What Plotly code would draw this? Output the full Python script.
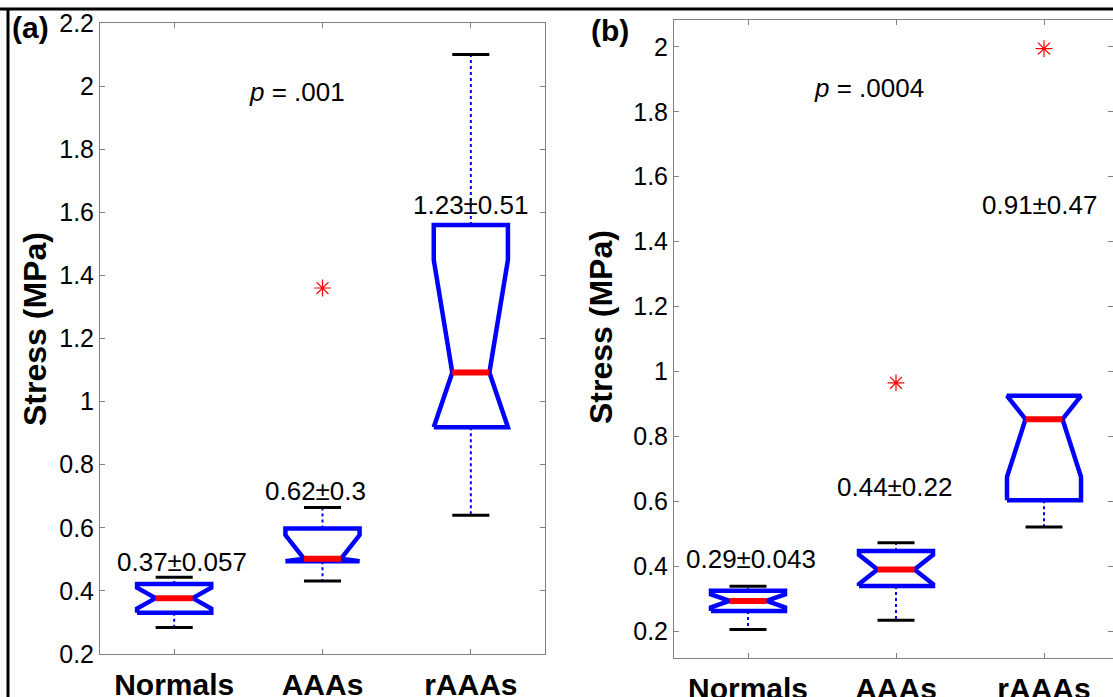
import plotly.graph_objects as go

W, H = 1113, 697

categories = ["Normals", "AAAs", "rAAAs"]
cat_pos = [1, 2, 3]

# ---- panel (a) ----
a_q1 = [0.331, 0.494, 0.919]
a_med = [0.377, 0.502, 1.092]
a_q3 = [0.422, 0.598, 1.560]
a_lo = [0.284, 0.431, 0.640]
a_hi = [0.443, 0.664, 2.100]
a_notch = [0.033, 0.075, 0.357]
a_out_x = [2]
a_out_y = [1.36]
a_labels = ["0.37±0.057", "0.62±0.3", "1.23±0.51"]
a_label_x = [1.05, 1.95, 3.0]
a_label_y = [0.492, 0.718, 1.623]
a_p_text = "<i>p</i> = .001"
a_p_pos = (1.83, 1.981)
a_yticks = [0.2, 0.4, 0.6, 0.8, 1.0, 1.2, 1.4, 1.6, 1.8, 2.0, 2.2]
a_yticktext = ["0.2", "0.4", "0.6", "0.8", "1", "1.2", "1.4", "1.6", "1.8", "2", "2.2"]

# ---- panel (b) ----
b_q1 = [0.262, 0.339, 0.603]
b_med = [0.293, 0.390, 0.853]
b_q3 = [0.324, 0.447, 0.925]
b_lo = [0.205, 0.233, 0.521]
b_hi = [0.338, 0.472, 0.925]
b_notch = [0.020, 0.045, 0.178]
b_out_x = [2, 3]
b_out_y = [0.965, 1.995]
b_labels = ["0.29±0.043", "0.44±0.22", "0.91±0.47"]
b_label_x = [1.02, 1.99, 2.97]
b_label_y = [0.423, 0.644, 1.513]
b_p_text = "<i>p</i> = .0004"
b_p_pos = (1.82, 1.874)
b_yticks = [0.2, 0.4, 0.6, 0.8, 1.0, 1.2, 1.4, 1.6, 1.8, 2.0]
b_yticktext = ["0.2", "0.4", "0.6", "0.8", "1", "1.2", "1.4", "1.6", "1.8", "2"]

FONT = "Arial, 'Liberation Sans', sans-serif"
BLUE = "rgb(0,0,255)"
RED = "rgb(255,0,0)"
AXC = "#808080"

fig = go.Figure()


def add_panel(xa, ya, q1, med, q3, lo, hi, notch, out_x, out_y):
    half, nd, cap = 0.25, 0.125, 0.125
    for i, x in enumerate(cat_pos):
        # whiskers (dotted blue)
        fig.add_trace(go.Scatter(x=[x, x], y=[q3[i], hi[i]], mode="lines",
                                 line=dict(color=BLUE, width=2, dash="dot"),
                                 xaxis=xa, yaxis=ya, hoverinfo="skip", showlegend=False))
        fig.add_trace(go.Scatter(x=[x, x], y=[q1[i], lo[i]], mode="lines",
                                 line=dict(color=BLUE, width=2, dash="dot"),
                                 xaxis=xa, yaxis=ya, hoverinfo="skip", showlegend=False))
        # caps
        for v in (lo[i], hi[i]):
            fig.add_trace(go.Scatter(x=[x - cap, x + cap], y=[v, v], mode="lines",
                                     line=dict(color="black", width=3),
                                     xaxis=xa, yaxis=ya, hoverinfo="skip", showlegend=False))
        # notched box
        L, R = x - half, x + half
        top_n = min(med[i] + notch[i], q3[i])
        bot_n = max(med[i] - notch[i], q1[i])
        px = [L, L, x - nd, L, L, R, R, x + nd, R, R, L]
        py = [q1[i], bot_n, med[i], top_n, q3[i], q3[i], top_n, med[i], bot_n, q1[i], q1[i]]
        fig.add_trace(go.Scatter(x=px, y=py, mode="lines",
                                 line=dict(color=BLUE, width=4.5),
                                 xaxis=xa, yaxis=ya, hoverinfo="skip", showlegend=False))
        # median
        fig.add_trace(go.Scatter(x=[x - nd, x + nd], y=[med[i], med[i]], mode="lines",
                                 line=dict(color=RED, width=6),
                                 xaxis=xa, yaxis=ya, hoverinfo="skip", showlegend=False))
    fig.add_trace(go.Scatter(x=out_x, y=out_y, mode="markers",
                             marker=dict(symbol="asterisk-open", size=14, color=RED,
                                         line=dict(color=RED, width=1.2)),
                             xaxis=xa, yaxis=ya, hoverinfo="skip", showlegend=False))


add_panel("x", "y", a_q1, a_med, a_q3, a_lo, a_hi, a_notch, a_out_x, a_out_y)
add_panel("x2", "y2", b_q1, b_med, b_q3, b_lo, b_hi, b_notch, b_out_x, b_out_y)

annotations = []
for xs, ys, txts, xr, yr in ((a_label_x, a_label_y, a_labels, "x", "y"),
                             (b_label_x, b_label_y, b_labels, "x2", "y2")):
    for x, y, t in zip(xs, ys, txts):
        annotations.append(dict(x=x, y=y, xref=xr, yref=yr, text=t, showarrow=False,
                                font=dict(family=FONT, size=26, color="black"),
                                xanchor="center", yanchor="middle"))
annotations.append(dict(x=a_p_pos[0], y=a_p_pos[1], xref="x", yref="y", text=a_p_text,
                        showarrow=False, xanchor="center", yanchor="middle",
                        font=dict(family=FONT, size=26, color="black")))
annotations.append(dict(x=b_p_pos[0], y=b_p_pos[1], xref="x2", yref="y2", text=b_p_text,
                        showarrow=False, xanchor="center", yanchor="middle",
                        font=dict(family=FONT, size=26, color="black")))
# panel letters and y titles
annotations.append(dict(x=30 / W, y=1 - 28 / H, xref="paper", yref="paper", text="<b>(a)</b>",
                        showarrow=False, xanchor="center", yanchor="middle",
                        font=dict(family=FONT, size=30, color="black")))
annotations.append(dict(x=610 / W, y=1 - 31 / H, xref="paper", yref="paper", text="<b>(b)</b>",
                        showarrow=False, xanchor="center", yanchor="middle",
                        font=dict(family=FONT, size=30, color="black")))
annotations.append(dict(x=35 / W, y=1 - 329 / H, xref="paper", yref="paper",
                        text="<b>Stress (MPa)</b>", textangle=-90, showarrow=False,
                        xanchor="center", yanchor="middle",
                        font=dict(family=FONT, size=32, color="black")))
annotations.append(dict(x=601 / W, y=1 - 327 / H, xref="paper", yref="paper",
                        text="<b>Stress (MPa)</b>", textangle=-90, showarrow=False,
                        xanchor="center", yanchor="middle",
                        font=dict(family=FONT, size=32, color="black")))

axis_common = dict(showline=True, linecolor=AXC, linewidth=1, mirror="ticks",
                   ticks="inside", ticklen=5, tickcolor=AXC, showgrid=False, zeroline=False,
                   automargin=False)
xt = dict(tickvals=cat_pos, ticktext=["<b>%s</b>" % c for c in categories],
          tickfont=dict(family=FONT, size=30, color="black"))

fig.update_layout(
    width=W, height=H, autosize=False,
    margin=dict(l=0, r=0, t=0, b=0, pad=0, autoexpand=False),
    paper_bgcolor="white", plot_bgcolor="white",
    xaxis=dict(domain=[100 / W, 545 / W], range=[0.5, 3.5], anchor="y",
               ticklabelstandoff=4, **xt, **axis_common),
    yaxis=dict(domain=[1 - 654 / H, 1 - 23 / H], range=[0.2, 2.2], anchor="x",
               tickvals=a_yticks, ticktext=a_yticktext,
               tickfont=dict(family=FONT, size=25, color="black"), **axis_common),
    xaxis2=dict(domain=[674 / W, 1.0], range=[0.5, 0.5 + 439 / 148.0], anchor="y2",
                ticklabelstandoff=4, **xt, **axis_common),
    yaxis2=dict(domain=[1 - 658 / H, 1 - 20 / H], range=[0.117, 2.083], anchor="x2",
                tickvals=b_yticks, ticktext=b_yticktext,
                tickfont=dict(family=FONT, size=25, color="black"), **axis_common),
    annotations=annotations,
    shapes=[
        dict(type="line", xref="paper", yref="paper", x0=0, x1=1, y0=1 - 9 / H, y1=1 - 9 / H,
             line=dict(color="black", width=3)),
        dict(type="line", xref="paper", yref="paper", x0=8 / W, x1=8 / W, y0=0, y1=1 - 9 / H,
             line=dict(color="black", width=3)),
    ],
)

fig.write_html("out.html", config={"displayModeBar": False},
               post_script="document.body.style.margin='0px';document.body.style.overflow='hidden';")
